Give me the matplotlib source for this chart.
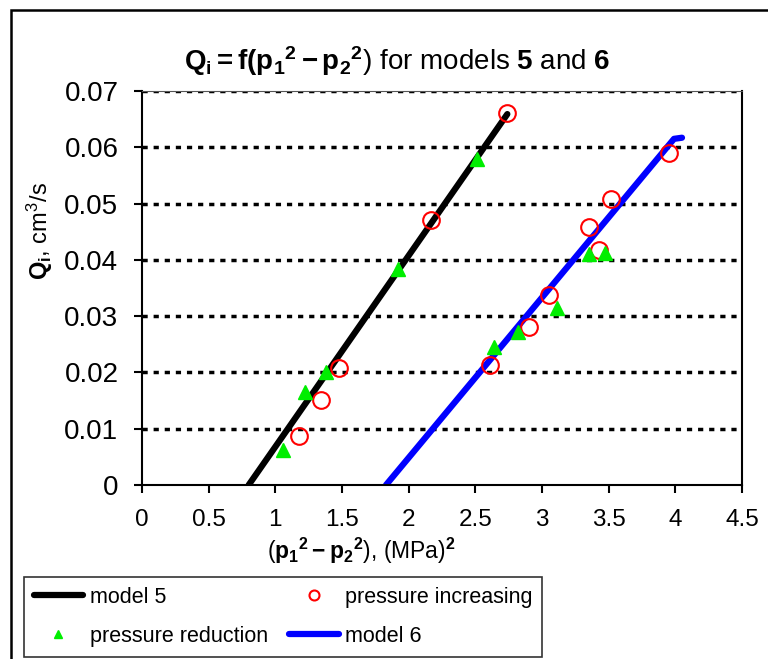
import matplotlib.pyplot as plt
import matplotlib.patches as patches

plt.rcParams['font.family'] = ['Liberation Sans', 'DejaVu Sans']
plt.rcParams['mathtext.fontset'] = 'custom'
plt.rcParams['mathtext.rm'] = 'Liberation Sans'
plt.rcParams['mathtext.it'] = 'Liberation Sans'
plt.rcParams['mathtext.bf'] = 'Liberation Sans:bold'

# pressure increasing (open red circles)
inc_x = [1.18, 1.34, 1.48, 2.17, 2.74, 2.61, 2.90, 3.05, 3.43, 3.35, 3.52, 3.95]
inc_y = [0.0087, 0.0151, 0.0207, 0.0470, 0.0661, 0.0214, 0.0280, 0.0337, 0.0418, 0.0459, 0.0509, 0.0589]

# pressure reduction (green triangles)
red_x = [1.06, 1.22, 1.38, 1.92, 2.51, 2.64, 2.82, 3.11, 3.35, 3.47]
red_y = [0.0062, 0.0165, 0.0200, 0.0383, 0.0580, 0.0245, 0.0271, 0.0314, 0.0411, 0.0413]

# fitted models
model5_x = [0.80, 2.74]
model5_y = [0.0, 0.0659]
model6_x = [1.83, 3.99, 4.05]
model6_y = [0.0, 0.0615, 0.0617]

xticks = [0, 0.5, 1, 1.5, 2, 2.5, 3, 3.5, 4, 4.5]
yticks = [0, 0.01, 0.02, 0.03, 0.04, 0.05, 0.06, 0.07]
ylabels = ['0', '0.01', '0.02', '0.03', '0.04', '0.05', '0.06', '0.07']

W, H = 768, 659
fig = plt.figure(figsize=(W / 100, H / 100), dpi=100)
ax = fig.add_axes([142 / W, 1 - 485 / H, 600 / W, 394 / H])

for y in yticks[1:]:
    ax.axhline(y, color='black', lw=2.5, ls=(0, (1.5, 1.7)), zorder=1)

l5, = ax.plot(model5_x, model5_y, color='black', lw=4.5, solid_capstyle='round', zorder=2)
l6, = ax.plot(model6_x, model6_y, color='#0000ff', lw=4.5, solid_capstyle='round', zorder=2)
ci, = ax.plot(inc_x, inc_y, 'o', ms=12, mfc='none', mec='#ff0000', mew=1.5, ls='none', zorder=3)
tr, = ax.plot(red_x, red_y, '^', ms=10.5, color='#00ee00', ls='none', zorder=3)

ax.set_xlim(0, 4.5)
ax.set_ylim(0, 0.07)
ax.set_xticks(xticks)
ax.set_xticklabels([f'{v:g}' for v in xticks])
ax.set_yticks(yticks)
ax.set_yticklabels(ylabels)
ax.tick_params(axis='both', direction='out', length=6, width=1.5, pad=11)
ax.tick_params(axis='x', labelsize=17.5)
ax.tick_params(axis='y', labelsize=20)
for s in ['left', 'bottom', 'right']:
    ax.spines[s].set_linewidth(1.5)
ax.spines['top'].set_linewidth(0.8)
ax.spines['top'].set_color('#555555')

fig.text(397 / W, 1 - 61 / H,
         r'$\mathbf{Q_i{=}f(p_1{}^2 - p_2{}^2}$) for models $\mathbf{5}$ and $\mathbf{6}$',
         ha='center', va='center', fontsize=20)
fig.text(361 / W, 1 - 551 / H,
         r'($\mathbf{p_1{}^2 - p_2{}^2}$), (MPa)$^\mathbf{2}$',
         ha='center', va='center', fontsize=16.5)
fig.text(40 / W, 1 - 231 / H, r'$\mathbf{Q_i}$, cm$^3$/s',
         ha='center', va='center', rotation=90, fontsize=17)

leg = fig.legend([l5, tr, ci, l6],
                 ['model 5', 'pressure reduction', 'pressure increasing', 'model 6'],
                 loc='upper left', bbox_to_anchor=(24 / W, 1 - 577 / H), ncol=2,
                 fontsize=15.5, frameon=True, fancybox=False, edgecolor='black',
                 handlelength=2.3, columnspacing=1.0, labelspacing=0.85,
                 markerscale=0.6, borderaxespad=0, borderpad=0.45, handletextpad=0.3)
leg.get_frame().set_linewidth(1.2)

fig.patches.append(patches.Rectangle((11 / W, -0.1), 1.2, 1 - 10 / H + 0.1,
                                     transform=fig.transFigure, fill=False,
                                     edgecolor='black', lw=1.8))

fig.savefig('out.png', dpi=100)
